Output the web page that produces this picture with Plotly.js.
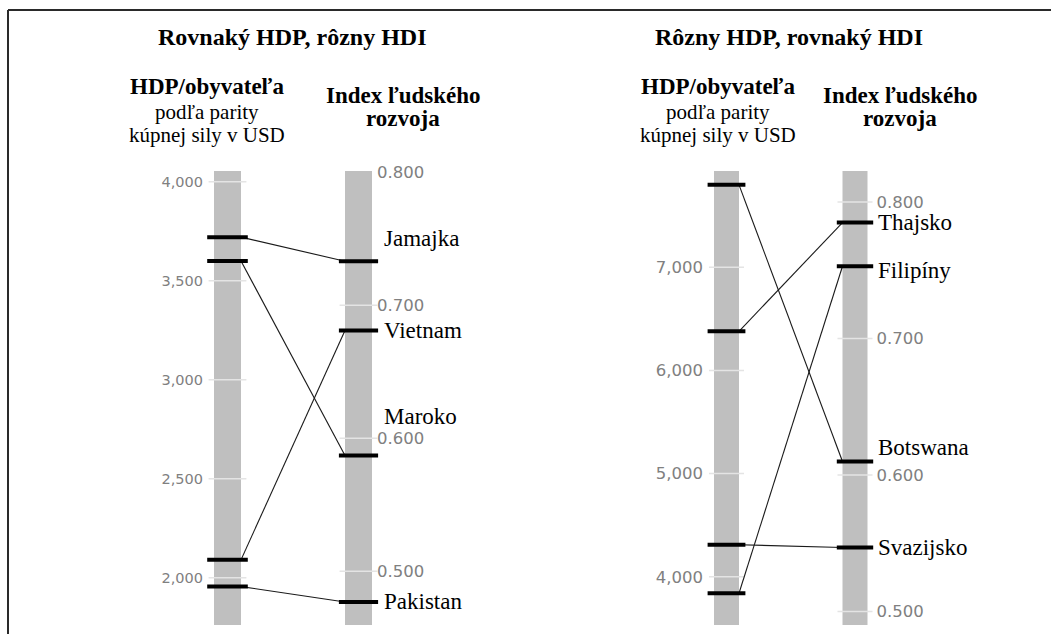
<!DOCTYPE html>
<html>
<head>
<meta charset="utf-8">
<script src="https://cdn.plot.ly/plotly-3.0.1.min.js"></script>
<style>html,body{margin:0;padding:0;background:#fff;}#chart{width:1051px;height:634px;}</style>
</head>
<body>
<div id="chart"></div>
<script>
// ---------- DATA ----------
const panel1Title = 'Rovnaký HDP, rôzny HDI';
const panel2Title = 'Rôzny HDP, rovnaký HDI';
const gdpHeader = ['HDP/obyvateľa', 'podľa parity', 'kúpnej sily v USD'];
const hdiHeader = ['Index ľudského', 'rozvoja'];

const panel1Countries = ['Jamajka', 'Maroko', 'Vietnam', 'Pakistan'];
const panel1Gdp = [3720, 3600, 2090, 1955];
const panel1Hdi = [0.733, 0.587, 0.681, 0.477];

const panel2Countries = ['Botswana', 'Thajsko', 'Svazijsko', 'Filipíny'];
const panel2Gdp = [7800, 6380, 4310, 3840];
const panel2Hdi = [0.610, 0.785, 0.547, 0.753];

const panel1GdpTicks = [2000, 2500, 3000, 3500, 4000];
const panel1GdpTickText = ['2,000', '2,500', '3,000', '3,500', '4,000'];
const panel1HdiTicks = [0.5, 0.6, 0.7, 0.8];
const panel1HdiTickText = ['0.500', '0.600', '0.700', '0.800'];

const panel2GdpTicks = [4000, 5000, 6000, 7000];
const panel2GdpTickText = ['4,000', '5,000', '6,000', '7,000'];
const panel2HdiTicks = [0.5, 0.6, 0.7, 0.8];
const panel2HdiTickText = ['0.500', '0.600', '0.700', '0.800'];

// ---------- LAYOUT / STYLE ----------
const W = 1051, H = 634, TOP = 171, BOTTOM = 625;
const px = v => v / W;
const py = v => (BOTTOM - v) / (BOTTOM - TOP);

const panel1GdpRange = [1761, 4054];
const panel1HdiRange = [0.4597, 0.8008];
const panel2GdpRange = [3532, 7934];
const panel2HdiRange = [0.4902, 0.8228];

const barColor = '#bfbfbf';
const gridColor = '#e4e4e4';
const tickColor = '#808080';
const serif = 'Liberation Serif, Times New Roman, serif';
const sans = 'DejaVu Sans, Verdana, sans-serif';

// panel geometry (pixel centers of the two bars)
const P1 = {left: 227.5, right: 358.5, dom: [126, 483.5], barW: 27};
const P2 = {left: 726.5, right: 855, dom: [630.6, 977.4], barW: 25};
function xr(P) {
  const unit = P.right - P.left;
  return [-(P.left - P.dom[0]) / unit, (P.dom[1] - P.left) / unit];
}
function half(P) { return (P.barW / 2) / (P.right - P.left); }

function mapRange(v, from, to) {
  return to[0] + (v - from[0]) / (from[1] - from[0]) * (to[1] - to[0]);
}

const traces = [];
function addPanel(P, xa, yG, yH, gdp, hdi, gdpTicks, hdiTicks, gdpR, hdiR) {
  // gridlines inside bars (only where they fall clearly inside the bar)
  const inside = (t, r) => t > r[0] + 0.01 * (r[1] - r[0]) && t < r[1] - 0.01 * (r[1] - r[0]);
  const gT = gdpTicks.filter(t => inside(t, gdpR));
  const hT = hdiTicks.filter(t => inside(t, hdiR));
  traces.push({x: gT.map(() => 0), y: gT, xaxis: xa, yaxis: yG, type: 'scatter', mode: 'markers',
    marker: {symbol: 'line-ew', size: P.barW, line: {color: gridColor, width: 1.5}}, hoverinfo: 'skip', cliponaxis: false});
  traces.push({x: hT.map(() => 1), y: hT, xaxis: xa, yaxis: yH, type: 'scatter', mode: 'markers',
    marker: {symbol: 'line-ew', size: P.barW, line: {color: gridColor, width: 1.5}}, hoverinfo: 'skip', cliponaxis: false});
  // connecting lines (GDP bar edge -> HDI bar edge)
  const h = half(P);
  gdp.forEach((g, i) => {
    traces.push({x: [h, 1 - h], y: [g, mapRange(hdi[i], hdiR, gdpR)], xaxis: xa, yaxis: yG,
      type: 'scatter', mode: 'lines', line: {color: '#1a1a1a', width: 1.1}, hoverinfo: 'skip', cliponaxis: false});
  });
  // marks
  traces.push({x: gdp.map(() => 0), y: gdp, xaxis: xa, yaxis: yG, type: 'scatter', mode: 'markers',
    marker: {symbol: 'line-ew', size: P.barW + 2, line: {color: '#000', width: 4}}, hoverinfo: 'skip', cliponaxis: false});
  traces.push({x: hdi.map(() => 1), y: hdi, xaxis: xa, yaxis: yH, type: 'scatter', mode: 'markers',
    marker: {symbol: 'line-ew', size: P.barW + 1, line: {color: '#000', width: 4}}, hoverinfo: 'skip', cliponaxis: false});
}
addPanel(P1, 'x', 'y', 'y2', panel1Gdp, panel1Hdi, panel1GdpTicks, panel1HdiTicks, panel1GdpRange, panel1HdiRange);
addPanel(P2, 'x2', 'y3', 'y4', panel2Gdp, panel2Hdi, panel2GdpTicks, panel2HdiTicks, panel2GdpRange, panel2HdiRange);

function yAxis(range, ticks, text, side, posPx, extra, size, standoff) {
  return Object.assign({
    range: range, tickmode: 'array', tickvals: ticks, ticktext: text, side: side,
    anchor: 'free', position: px(posPx), showgrid: false, zeroline: false, showline: false,
    ticks: '', ticklabelstandoff: standoff, fixedrange: true,
    tickfont: {family: sans, size: size, color: tickColor}
  }, extra);
}

const shapes = [];
[[P1, 'x'], [P2, 'x2']].forEach(([P, xa]) => {
  [0, 1].forEach(pos => {
    shapes.push({type: 'rect', xref: xa, yref: 'paper', xsizemode: 'pixel', xanchor: pos,
      x0: -P.barW / 2, x1: P.barW / 2, y0: 0, y1: 1, fillcolor: barColor, line: {width: 0}, layer: 'below'});
  });
});
// frame
shapes.push({type: 'line', xref: 'paper', yref: 'paper', x0: px(8), x1: px(1060), y0: py(10), y1: py(10), line: {color: '#2a2a2a', width: 2}});
shapes.push({type: 'line', xref: 'paper', yref: 'paper', x0: px(8), x1: px(8), y0: py(10), y1: py(640), line: {color: '#2a2a2a', width: 2}});

const ann = [];
function txt(text, xPx, yPx, size, bold, anchor) {
  ann.push({text: bold ? '<b>' + text + '</b>' : text, xref: 'paper', yref: 'paper', x: px(xPx), y: py(yPx),
    xanchor: anchor || 'center', yanchor: 'middle', showarrow: false, font: {family: serif, size: size, color: '#000'}});
}
txt(panel1Title, 292, 37, 24, true);
txt(panel2Title, 789, 37, 24, true);
[[207, 403], [718, 900]].forEach(([gx, hx]) => {
  txt(gdpHeader[0], gx, 87, 23, true);
  txt(gdpHeader[1], gx, 112, 21, false);
  txt(gdpHeader[2], gx, 135, 21, false);
  txt(hdiHeader[0], hx, 95, 23, true);
  txt(hdiHeader[1], hx, 118, 23, true);
});

const labelShift1 = [23, 39, 0, 0];
const labelShift2 = [14, 0, 0, -4];
function countryLabels(P, xa, ya, names, hdi, shifts, gap) {
  names.forEach((n, i) => {
    ann.push({text: n, xref: xa, yref: ya, x: 1, y: hdi[i], xanchor: 'left', yanchor: 'middle',
      xshift: P.barW / 2 + gap, yshift: shifts[i], showarrow: false,
      font: {family: serif, size: 23, color: '#000'}});
  });
}
countryLabels(P1, 'x', 'y2', panel1Countries, panel1Hdi, labelShift1, 10);
countryLabels(P2, 'x2', 'y4', panel2Countries, panel2Hdi, labelShift2, 8);

const layout = {
  width: W, height: H, margin: {l: 0, r: 0, t: TOP, b: H - BOTTOM, pad: 0},
  paper_bgcolor: '#fff', plot_bgcolor: 'rgba(0,0,0,0)', showlegend: false,
  xaxis: {domain: [px(P1.dom[0]), px(P1.dom[1])], range: xr(P1), visible: false, anchor: 'y', fixedrange: true},
  xaxis2: {domain: [px(P2.dom[0]), px(P2.dom[1])], range: xr(P2), visible: false, anchor: 'y3', fixedrange: true},
  yaxis: yAxis(panel1GdpRange, panel1GdpTicks, panel1GdpTickText, 'left', 214, {}, 14.5, 11),
  yaxis2: yAxis(panel1HdiRange, panel1HdiTicks, panel1HdiTickText, 'right', 372, {overlaying: 'y'}, 16.5, 4),
  yaxis3: yAxis(panel2GdpRange, panel2GdpTicks, panel2GdpTickText, 'left', 714, {}, 16.5, 11),
  yaxis4: yAxis(panel2HdiRange, panel2HdiTicks, panel2HdiTickText, 'right', 867.5, {overlaying: 'y3'}, 16.5, 8),
  shapes: shapes, annotations: ann
};

Plotly.newPlot('chart', traces, layout, {displayModeBar: false, staticPlot: true});
</script>
</body>
</html>
